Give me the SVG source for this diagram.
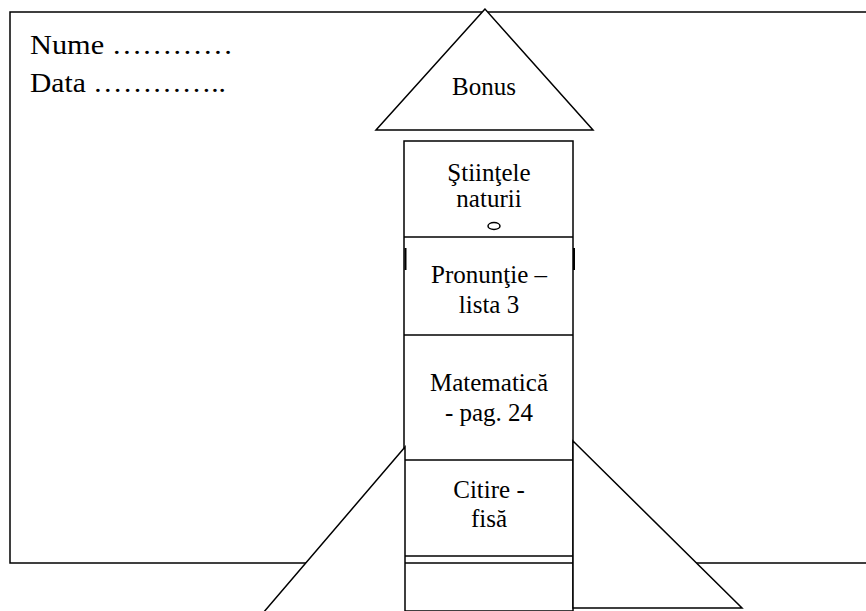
<svg xmlns="http://www.w3.org/2000/svg" width="866" height="611" viewBox="0 0 866 611">
<style>
.ln{fill:none;stroke:#000;stroke-width:1.5}
.wf{fill:#fff;stroke:#000;stroke-width:1.5}
.t{font-family:"Liberation Serif","Times New Roman",serif;font-size:25px;fill:#000;text-anchor:middle}
.h{font-family:"Liberation Serif","Book Antiqua",serif;font-size:28px;fill:#000}
</style>
<rect width="866" height="611" fill="#fff"/>
<g id="frame">
<rect class="ln" x="10" y="12" width="870" height="551"/>
<text class="h" x="30" y="54" textLength="203" lengthAdjust="spacingAndGlyphs">Nume …………</text>
<text class="h" x="30" y="92" textLength="196" lengthAdjust="spacingAndGlyphs">Data …………..</text>
</g>
<g id="bonus">
<polygon class="wf" points="485,9 376,130 593,130"/>
<text class="t" x="484" y="95">Bonus</text>
</g>
<g id="tower">
<rect class="wf" x="404" y="141" width="169" height="470"/>
</g>
<g id="stiinte">
<line class="ln" x1="404" y1="237" x2="573" y2="237"/>
<text class="t" x="489" y="181">Ştiinţele</text>
<text class="t" x="489" y="207">naturii</text>
<ellipse class="ln" cx="494" cy="226" rx="6" ry="3.5"/>
</g>
<g id="pronuntie">
<line x1="405.5" y1="248" x2="405.5" y2="270" stroke="#000" stroke-width="2"/>
<line x1="574" y1="248" x2="574" y2="270" stroke="#000" stroke-width="2"/>
<line class="ln" x1="404" y1="335" x2="573" y2="335"/>
<text class="t" x="489" y="283">Pronunţie –</text>
<text class="t" x="489" y="313">lista 3</text>
</g>
<g id="matematica">
<line class="ln" x1="404" y1="460" x2="573" y2="460"/>
<text class="t" x="489" y="391">Matematică</text>
<text class="t" x="489" y="421">- pag. 24</text>
</g>
<g id="citire">
<line class="ln" x1="404" y1="556" x2="573" y2="556"/>
<line class="ln" x1="404" y1="563" x2="573" y2="563"/>
<text class="t" x="489" y="498">Citire -</text>
<text class="t" x="489" y="527">fisă</text>
</g>
<g id="fins">
<polygon class="wf" points="405,447 263,613 405,613"/>
<polygon class="wf" points="573,441 573,608 742,608"/>
</g>
</svg>
